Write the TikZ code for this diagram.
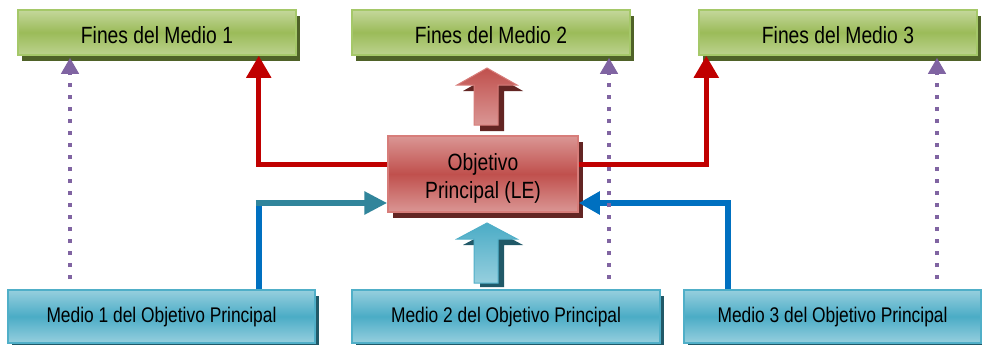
\documentclass[tikz,border=0pt]{standalone}
\usepackage{fontspec}
\setmainfont{Liberation Sans}[FakeStretch=0.82]
\usetikzlibrary{arrows.meta,shadows}
\definecolor{glight}{RGB}{196,215,155}
\definecolor{gmid}{RGB}{155,187,89}
\definecolor{glow}{RGB}{188,210,142}
\definecolor{gborder}{RGB}{165,200,105}
\definecolor{gshadow}{RGB}{79,98,40}
\definecolor{blight}{RGB}{150,207,222}
\definecolor{bmid}{RGB}{75,172,198}
\definecolor{bborder}{RGB}{80,175,200}
\definecolor{bshadow}{RGB}{33,89,104}
\definecolor{rlight}{RGB}{218,150,148}
\definecolor{rmid}{RGB}{192,80,77}
\definecolor{rborder}{RGB}{215,125,122}
\definecolor{rshadow}{RGB}{99,37,35}
\definecolor{redline}{RGB}{192,0,0}
\definecolor{blueline}{RGB}{0,112,192}
\definecolor{tealline}{RGB}{49,133,155}
\definecolor{purpleline}{RGB}{128,100,162}
\tikzset{
  boxbase/.style={rectangle, inner sep=0pt, line width=1.5pt, text=black},
  greenbox/.style={boxbase, minimum width=278pt, minimum height=45pt, draw=gborder,
    top color=glight, bottom color=glow, middle color=gmid,
    drop shadow={shadow xshift=4pt, shadow yshift=-6pt, fill=gshadow, opacity=1},
    font=\fontsize{23.5}{28}\selectfont, text height=23pt, text depth=0pt},
  bluebox/.style={boxbase, minimum height=53pt, draw=bborder,
    top color=blight, bottom color=blight, middle color=bmid,
    drop shadow={shadow xshift=4pt, shadow yshift=-6pt, fill=bshadow, opacity=1},
    font=\fontsize{21.2}{26}\selectfont, text height=15pt, text depth=3.5pt},
  redbox/.style={boxbase, minimum width=190pt, minimum height=76pt, draw=rborder,
    top color=rlight, bottom color=rlight, middle color=rmid,
    drop shadow={shadow xshift=5pt, shadow yshift=-6pt, fill=rshadow, opacity=1}},
  objtextstyle/.style={inner sep=0pt, align=center, text=black,
    font=\fontsize{23.5}{28}\selectfont},
  redconn/.style={draw=redline, line width=5pt, line join=miter,
    -{Triangle[width=24pt,length=22pt]}},
  blueconn/.style={draw=blueline, line width=6pt, line join=miter},
  tealconn/.style={draw=tealline, line width=6pt,
    -{Triangle[width=22pt,length=23pt]}},
  purpleconn/.style={draw=purpleline, line width=4pt, dash pattern=on 4pt off 8pt,
    -{Triangle[width=17pt,length=16pt]}, shorten >=2pt},
  redblock/.style={top color=rmid, bottom color=rlight, draw=rborder, line width=1pt},
  blueblock/.style={top color=bmid, bottom color=blight, draw=bborder, line width=1pt},
}
\begin{document}
\begin{tikzpicture}[x=1pt,y=-1pt]
\useasboundingbox (0,0) rectangle (982,345);
\fill[white] (0,0) rectangle (982,345);

% top boxes
\node[greenbox] (f1) at (157,32.5) {Fines del Medio 1};
\node[greenbox] (f2) at (491,32.5) {Fines del Medio 2};
\node[greenbox] (f3) at (838,32.5) {Fines del Medio 3};

% bottom boxes
\node[bluebox, minimum width=307pt] (m1) at (161.5,316.5) {Medio 1 del Objetivo Principal};
\node[bluebox, minimum width=308pt] (m2) at (506,316.5) {Medio 2 del Objetivo Principal};
\node[bluebox, minimum width=297pt] (m3) at (832.5,316.5) {Medio 3 del Objetivo Principal};

% block arrows
\fill[rshadow] (493,74) -- (523,91) -- (504,91) -- (504,131) -- (480,131) -- (480,91) -- (463,91) -- cycle;
\path[redblock] (487,68) -- (517,85) -- (498,85) -- (498,125) -- (474,125) -- (474,85) -- (457,85) -- cycle;
\fill[bshadow] (493,229) -- (523,245) -- (504,245) -- (504,287) -- (480,287) -- (480,245) -- (463,245) -- cycle;
\path[blueblock] (487,223) -- (517,239) -- (498,239) -- (498,283) -- (474,283) -- (474,239) -- (457,239) -- cycle;

% central box
\node[redbox] (obj) at (483,174) {};
\node[objtextstyle] (objtext) at (483,178) {Objetivo\\Principal (LE)};

% red connectors
\draw[redconn] ([yshift=10pt]obj.west) -| ([xshift=-38pt]f1.south east);
\draw[redconn] ([yshift=10pt]obj.east) -| ([xshift=8pt]f3.south west);

% blue connectors
\coordinate (m1top) at ([xshift=-57pt]m1.north east);
\coordinate (objL) at ([yshift=-29pt]obj.west);
\coordinate (c1) at (m1top |- objL);
\draw[blueconn] (m1top) -- (c1);
\draw[tealconn] ([xshift=-3pt]c1) -- (objL);
\coordinate (m3top) at ([xshift=45pt]m3.north west);
\coordinate (objR) at ([yshift=-29pt]obj.east);
\draw[blueconn, -{Triangle[width=22pt,length=21pt]}] (m3top) |- (objR);

% purple dotted connectors
\coordinate (p1) at (70,279);
\coordinate (p2) at (609,279);
\coordinate (p3) at (937,279);
\draw[purpleconn] (p1) -- (p1 |- f1.south);
\draw[purpleconn] (p2) -- (p2 |- f2.south);
\draw[purpleconn] (p3) -- (p3 |- f3.south);
\end{tikzpicture}
\end{document}
